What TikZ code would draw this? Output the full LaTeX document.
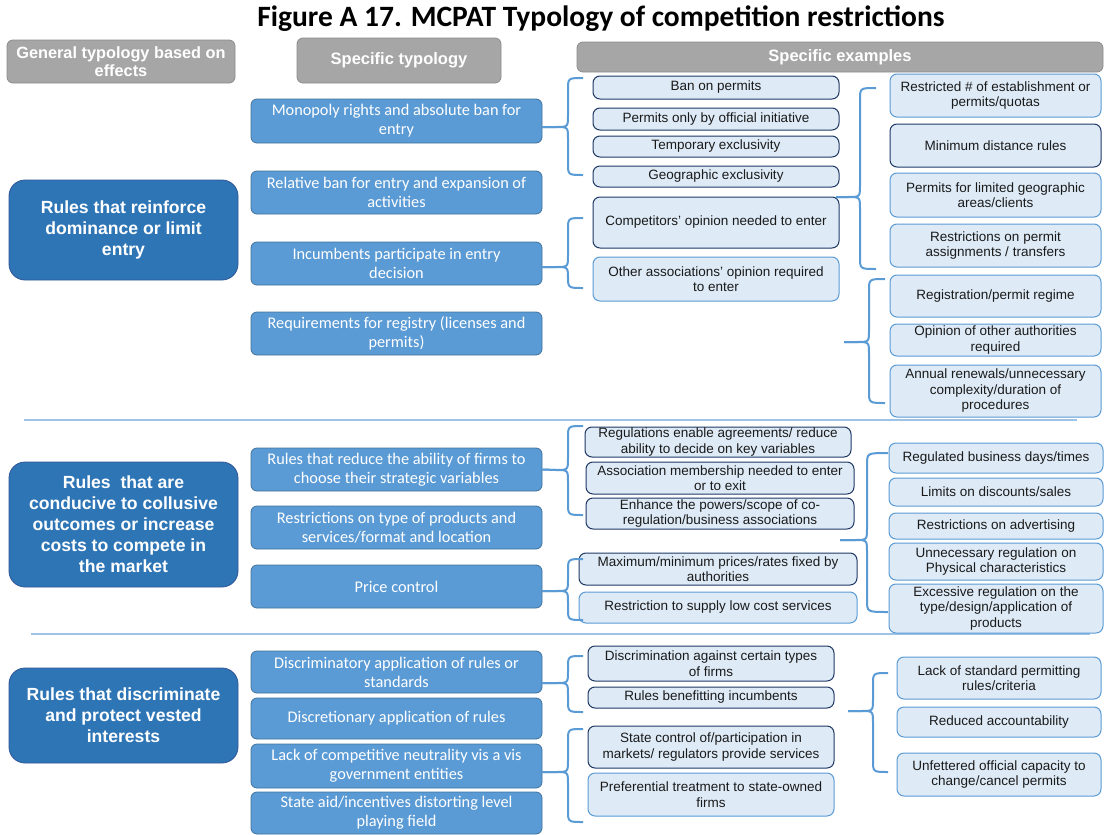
\documentclass[tikz,border=0pt]{standalone}
\usepackage{fontspec}
\setmainfont{Liberation Sans}
\newfontfamily\calibri{Carlito}
\definecolor{hdrfill}{HTML}{A6A6A6}
\definecolor{hdrline}{HTML}{8C8C8C}
\definecolor{grpfill}{HTML}{2E75B6}
\definecolor{grpline}{HTML}{2F5597}
\definecolor{midfill}{HTML}{5B9BD5}
\definecolor{midline}{HTML}{41719C}
\definecolor{exfill}{HTML}{DEEBF7}
\definecolor{exdark}{HTML}{1F3864}
\definecolor{exlight}{HTML}{5B9BD5}
\definecolor{brccol}{HTML}{5B9BD5}
\definecolor{sepcol}{HTML}{9DC3E6}
\definecolor{extext}{HTML}{1A1A1A}
\tikzset{
  hdr/.style={draw=hdrline, fill=hdrfill, rounded corners=6pt, line width=0.8pt, text=white, align=center, inner sep=0pt},
  grp/.style={draw=grpline, fill=grpfill, rounded corners=16pt, line width=0.8pt, text=white, align=center, inner sep=0pt,
    font=\bfseries\fontsize{17.6}{21}\selectfont},
  mid/.style={draw=midline, fill=midfill, rounded corners=6pt, line width=0.8pt, text=white, align=center, inner sep=0pt,
    font=\calibri\fontsize{16.3}{19}\selectfont},
  exd/.style={draw=exdark, fill=exfill, rounded corners=7pt, line width=1pt, text=extext, align=center, inner sep=0pt,
    font=\fontsize{13.5}{15.5}\selectfont},
  exl/.style={exd, draw=exlight},
  brc/.style={draw=brccol, line width=2pt, line join=round},
  sepline/.style={draw=sepcol, line width=1.5pt}
}
\newcommand\mkbox[7]{\node[#2, minimum width={#5-#3}, minimum height={#6-#4}] (#1) at ({(#3+#5)/2},{(#4+#6)/2}) {#7};}
% tip, vx, ty, y1, y2, ax
\newcommand\mybrace[6]{%
  \draw[brc] (#6,#4) .. controls (#2,#4) .. (#2,#4+12) -- (#2,#3-12) .. controls (#2,#3) .. (#2-12,#3) -- (#1);
  \draw[brc] (#1) -- (#2-12,#3) .. controls (#2,#3) .. (#2,#3+12) -- (#2,#5-12) .. controls (#2,#5) .. (#6,#5);}
\begin{document}
\begin{tikzpicture}[x=1pt,y=-1pt]
\useasboundingbox (0,0) rectangle (1104,835);
% title
\node[anchor=base, font=\calibri\bfseries\fontsize{29.5}{34}\selectfont, inner sep=0pt] (title) at (601,27) {Figure A 17. MCPAT Typology of competition restrictions};
% separators
\coordinate (s1a) at (24,420); \coordinate (s1b) at (1077,420);
\coordinate (s2a) at (31,634); \coordinate (s2b) at (1090,634);
\draw[sepline] (s1a) -- (s1b);
\draw[sepline] (s2a) -- (s2b);
% headers
\mkbox{hgen}{hdr, font=\bfseries\fontsize{16.3}{18}\selectfont}{7}{40}{235}{83}{General typology based on\\effects}
\mkbox{hspec}{hdr, font=\bfseries\fontsize{16.5}{19}\selectfont}{297}{38}{501}{83}{Specific typology}
\mkbox{hex}{hdr, font=\bfseries\fontsize{16.5}{19}\selectfont}{577}{42}{1103}{72}{Specific examples}
% groups
\mkbox{g1}{grp}{9}{180}{238}{280}{Rules that reinforce\\dominance or limit\\entry}
\mkbox{g2}{grp}{9}{462}{238}{587}{Rules\ \ that are\\conducive to collusive\\outcomes or increase\\costs to compete in\\the market}
\mkbox{g3}{grp}{9}{668}{238}{763}{Rules that discriminate\\and protect vested\\interests}
% middle
\mkbox{m1}{mid}{251}{99}{542}{143}{Monopoly rights and absolute ban for\\entry}
\mkbox{m2}{mid}{251}{171}{542}{214}{Relative ban for entry and expansion of\\activities}
\mkbox{m3}{mid}{251}{242}{542}{285}{Incumbents participate in entry\\decision}
\mkbox{m4}{mid}{251}{312}{542}{355}{Requirements for registry (licenses and\\permits)}
\mkbox{m5}{mid}{251}{448}{542}{491}{Rules that reduce the ability of firms to\\choose their strategic variables}
\mkbox{m6}{mid}{251}{506}{542}{549}{Restrictions on type of products and\\services/format and location}
\mkbox{m7}{mid}{251}{565}{542}{608}{Price control}
\mkbox{m8}{mid}{251}{651}{542}{693}{Discriminatory application of rules or\\standards}
\mkbox{m9}{mid}{251}{698}{542}{739}{Discretionary application of rules}
\mkbox{m10}{mid}{251}{744}{542}{788}{Lack of competitive neutrality vis a vis\\government entities}
\mkbox{m11}{mid}{251}{792}{542}{834}{State aid/incentives distorting level\\playing field}
% examples, first column
\mkbox{e1}{exd}{593}{76}{839}{99}{Ban on permits}
\mkbox{e2}{exd}{593}{108}{839}{130}{Permits only by official initiative}
\mkbox{e3}{exd}{593}{136}{839}{157}{Temporary exclusivity}
\mkbox{e4}{exd}{593}{166}{839}{187}{Geographic exclusivity}
\mkbox{e5}{exd}{593}{197}{839}{248}{Competitors’ opinion needed to enter}
\mkbox{e6}{exl}{593}{257}{839}{301}{Other associations’ opinion required\\to enter}
\mkbox{e7}{exd}{585}{427}{851}{457}{Regulations enable agreements/ reduce\\ability to decide on key variables}
\mkbox{e8}{exd}{586}{462}{854}{494}{Association membership needed to enter\\or to exit}
\mkbox{e9}{exd}{586}{498}{854}{529}{Enhance the powers/scope of co-\\regulation/business associations}
\mkbox{e10}{exd}{579}{553}{857}{585}{Maximum/minimum prices/rates fixed by\\authorities}
\mkbox{e11}{exl}{579}{592}{857}{623}{Restriction to supply low cost services}
\mkbox{e12}{exd}{588}{646}{834}{681}{Discrimination against certain types\\of firms}
\mkbox{e13}{exd}{588}{687}{834}{708}{Rules benefitting incumbents}
\mkbox{e14}{exd}{588}{726}{834}{768}{State control of/participation in\\markets/ regulators provide services}
\mkbox{e15}{exl}{588}{773}{834}{816}{Preferential treatment to state-owned\\firms}
% examples, second column
\mkbox{r1}{exl}{890}{74}{1101}{117}{Restricted \# of establishment or\\permits/quotas}
\mkbox{r2}{exd}{890}{124}{1101}{167}{Minimum distance rules}
\mkbox{r3}{exl}{890}{173}{1101}{217}{Permits for limited geographic\\areas/clients}
\mkbox{r4}{exl}{890}{224}{1101}{267}{Restrictions on permit\\assignments / transfers}
\mkbox{r5}{exl}{890}{275}{1101}{317}{Registration/permit regime}
\mkbox{r6}{exl}{890}{324}{1101}{356}{Opinion of other authorities\\required}
\mkbox{r7}{exl}{890}{365}{1101}{417}{Annual renewals/unnecessary\\complexity/duration of\\procedures}
\mkbox{r8}{exl}{889}{443}{1103}{473}{Regulated business days/times}
\mkbox{r9}{exl}{889}{478}{1103}{506}{Limits on discounts/sales}
\mkbox{r10}{exl}{889}{513}{1103}{539}{Restrictions on advertising}
\mkbox{r11}{exl}{889}{543}{1103}{580}{Unnecessary regulation on\\Physical characteristics}
\mkbox{r12}{exl}{889}{584}{1103}{633}{Excessive regulation on the\\type/design/application of\\products}
\mkbox{r13}{exl}{897}{657}{1101}{699}{Lack of standard permitting\\rules/criteria}
\mkbox{r14}{exl}{897}{707}{1101}{737}{Reduced accountability}
\mkbox{r15}{exl}{897}{753}{1101}{796}{Unfettered official capacity to\\change/cancel permits}
% brace tips
\coordinate (t1) at ([yshift=-6pt]m1.east);
\coordinate (t2) at ([yshift=-3.5pt]m3.east);
\coordinate (t3) at (836,197);
\coordinate (t4) at (844,342);
\coordinate (t5) at (m5.east);
\coordinate (t6) at ([yshift=-4.5pt]m7.east);
\coordinate (t7) at (840,540);
\coordinate (t8) at ([yshift=-11pt]m8.east);
\coordinate (t9) at ([yshift=-6pt]m10.east);
\coordinate (t10) at (848,711);
% braces
\mybrace{t1}{568}{127}{78}{175}{583}
\mybrace{t2}{568}{267}{218}{288}{583}
\mybrace{t3}{860}{197}{88}{269}{876}
\mybrace{t4}{869}{342}{279}{403}{885}
\mybrace{t5}{568}{470}{426}{515}{583}
\mybrace{t6}{568}{591}{559}{620}{583}
\mybrace{t7}{867}{540}{453}{612}{888}
\mybrace{t8}{568}{683}{656}{712}{583}
\mybrace{t9}{568}{772}{729}{822}{583}
\mybrace{t10}{873}{711}{673}{772}{888}
\end{tikzpicture}
\end{document}
